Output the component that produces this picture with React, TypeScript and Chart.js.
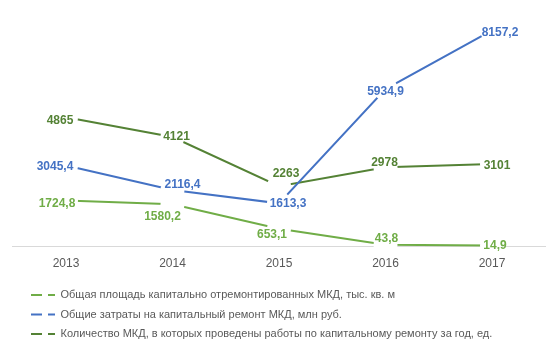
import React, { useEffect, useRef } from "react";
import { Chart, registerables } from "chart.js";

Chart.register(...registerables);

const years = ["2013", "2014", "2015", "2016", "2017"];
const areaValues = [1724.8, 1580.2, 653.1, 43.8, 14.9];
const costValues = [3045.4, 2116.4, 1613.3, 5934.9, 8157.2];
const countValues = [4865, 4121, 2263, 2978, 3101];
const seriesNames = [
  "Общая площадь капитально отремонтированных МКД, тыс. кв. м",
  "Общие затраты на капитальный ремонт МКД, млн руб.",
  "Количество МКД, в которых проведены работы по капитальному ремонту за год, ед.",
];
const seriesDecimals = [1, 1, 0];
const seriesColors = ["#70AD47", "#4472C4", "#548235"];

// label placement (dx, dy in px) relative to each data point
const areaLabelShift = [[-9, 3], [-10, 12], [-7, 6], [1, -6], [3, 0]];
const costLabelShift = [[-11, 1], [10, -5], [9, 0], [0, 3], [8, 2]];
const countLabelShift = [[-6, 3], [4, 0], [7, -12], [-1, -5], [5, 2]];
const labelShifts = [areaLabelShift, costLabelShift, countLabelShift];

const FONT = '"Liberation Sans", Arial, sans-serif';

function fmt(v: number, d: number) {
  return v.toFixed(d).replace(".", ",");
}

const valueLabels = {
  id: "valueLabels",
  afterDatasetsDraw(chart: any) {
    const ctx = chart.ctx;
    ctx.save();
    ctx.font = `bold 12px ${FONT}`;
    ctx.textAlign = "center";
    ctx.textBaseline = "middle";
    chart.data.datasets.forEach((ds: any, i: number) => {
      const meta = chart.getDatasetMeta(i);
      meta.data.forEach((pt: any, j: number) => {
        const [dx, dy] = labelShifts[i][j];
        ctx.fillStyle = seriesColors[i];
        ctx.fillText(fmt(ds.data[j], seriesDecimals[i]), pt.x + dx, pt.y + dy);
      });
    });
    ctx.restore();
  },
};

const legendShift = {
  id: "legendShift",
  afterLayout(chart: any) {
    if (chart.legend) chart.legend.left = 23 - 8.5;
  },
};

export default function App() {
  const ref = useRef<HTMLCanvasElement | null>(null);
  useEffect(() => {
    if (!ref.current) return;
    Chart.defaults.font.family = FONT;
    const mk = (i: number, data: number[]) => ({
      label: seriesNames[i],
      data,
      borderColor: seriesColors[i],
      backgroundColor: seriesColors[i],
      borderWidth: 2,
      tension: 0,
      pointRadius: 12,
      pointHoverRadius: 12,
      pointBackgroundColor: "#ffffff",
      pointBorderWidth: 0,
      pointHoverBorderWidth: 0,
      fill: false,
      clip: 20,
    });
    const chart = new Chart(ref.current, {
      type: "line",
      data: {
        labels: years,
        datasets: [mk(0, areaValues), mk(1, costValues), mk(2, countValues)],
      },
      options: {
        responsive: false,
        animation: false,
        events: [],
        layout: {
          autoPadding: false,
          padding: { top: 0, left: 4.75, right: 6.75, bottom: 1.5 },
        },
        scales: {
          x: {
            offset: true,
            grid: {
              display: true,
              drawOnChartArea: false,
              drawTicks: true,
              tickLength: 10,
              color: "rgba(0,0,0,0)",
            },
            border: { display: true, color: "#D9D9D9", width: 1 },
            ticks: { color: "#595959", font: { size: 12, family: FONT }, padding: 0 },
            afterFit(scale: any) {
              scale.height = 35;
            },
          },
          y: {
            display: false,
            min: 0,
            max: 9000,
          },
        },
        plugins: {
          tooltip: { enabled: false },
          legend: {
            position: "bottom",
            align: "start",
            labels: {
              usePointStyle: true,
              pointStyleWidth: 24,
              padding: 8.5,
              color: "#595959",
              font: { size: 11, family: FONT },
              generateLabels(chart: any) {
                return chart.data.datasets.map((ds: any, i: number) => ({
                  text: ds.label,
                  fillStyle: seriesColors[i],
                  strokeStyle: seriesColors[i],
                  lineWidth: 2,
                  lineDash: [11, 6],
                  pointStyle: "line",
                  fontColor: "#595959",
                  hidden: false,
                  datasetIndex: i,
                }));
              },
            },
          },
        },
      } as any,
      plugins: [valueLabels, legendShift],
    });
    return () => chart.destroy();
  }, []);
  return <canvas ref={ref} width={544} height={343} style={{ display: "block" }} />;
}
